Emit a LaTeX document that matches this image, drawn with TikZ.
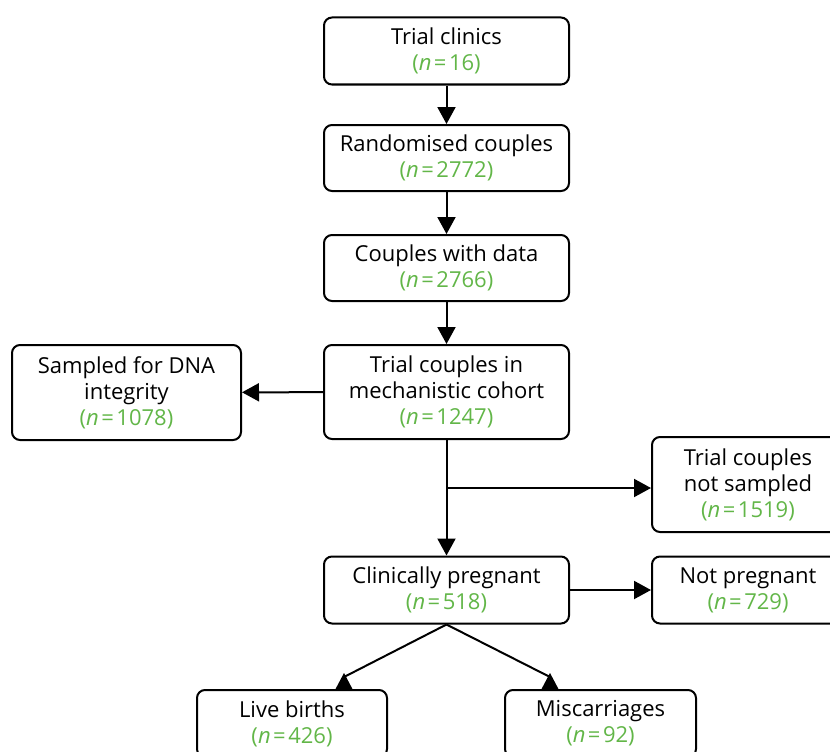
\documentclass[tikz,border=0pt]{standalone}
\usepackage{fontspec}
\setmainfont{Open Sans}
\usetikzlibrary{arrows.meta,calc}
\definecolor{ngreen}{RGB}{98,182,72}
\newcommand{\nval}[1]{\textcolor{ngreen}{(\textit{n}\kern2.5pt=\kern2.5pt#1)}}
\tikzset{
  box/.style={draw=black, line width=2pt, rounded corners=8pt, align=center,
    inner sep=0pt, font=\fontsize{22}{26}\selectfont},
  flow/.style={line width=2pt, -{Triangle[length=17pt,width=18pt]}},
  plain/.style={line width=2pt},
  tip/.style={fill=black, draw=none}
}
\begin{document}
\begin{tikzpicture}[x=1pt,y=-1pt]
\useasboundingbox (0,0) rectangle (830,752);
% main column
\node[box, minimum width=245pt, minimum height=67pt] (clin) at (446.5,51) {Trial clinics\\\nval{16}};
\node[box, minimum width=245pt, minimum height=66pt] (rand) at (446.5,158) {Randomised couples\\\nval{2772}};
\node[box, minimum width=245pt, minimum height=66pt] (data) at (446.5,268) {Couples with data\\\nval{2766}};
\node[box, minimum width=245pt, minimum height=94pt] (mech) at (446.5,392) {Trial couples in\\mechanistic cohort\\\nval{1247}};
\node[box, minimum width=245pt, minimum height=67pt] (preg) at (446.5,590) {Clinically pregnant\\\nval{518}};
% side boxes
\node[box, minimum width=229pt, minimum height=95pt] (dna) at (126.5,392.5) {Sampled for DNA\\integrity\\\nval{1078}};
\node[box, minimum width=192pt, minimum height=95pt] (nots) at (748,484.5) {Trial couples\\not sampled\\\nval{1519}};
\node[box, minimum width=192pt, minimum height=67pt] (notp) at (748,590) {Not pregnant\\\nval{729}};
% outcomes
\node[box, minimum width=190pt, minimum height=67pt] (live) at (292,723.5) {Live births\\\nval{426}};
\node[box, minimum width=191pt, minimum height=67pt] (misc) at (600.5,723.5) {Miscarriages\\\nval{92}};
% connectors
\draw[flow] (clin) -- (rand);
\draw[flow] (rand) -- (data);
\draw[flow] (data) -- (mech);
\draw[flow] (mech) -- (dna);
\draw[flow] (mech) -- (preg);
\coordinate (split) at (446.5,488);
\draw[flow] (split) -- (nots.west |- split);
\draw[flow] (preg) -- (notp);
% diagonal branches with upright heads
\coordinate (liveTip) at (344,673);
\coordinate (miscTip) at (550,673);
\draw[plain] (preg.south) -- ($(liveTip)+(0,4)$);
\draw[plain] (preg.south) -- ($(miscTip)+(0,4)$);
\fill[tip] (liveTip) -- (353,690) -- (335,690) -- cycle;
\fill[tip] (miscTip) -- (559,690) -- (541,690) -- cycle;
\end{tikzpicture}
\end{document}
